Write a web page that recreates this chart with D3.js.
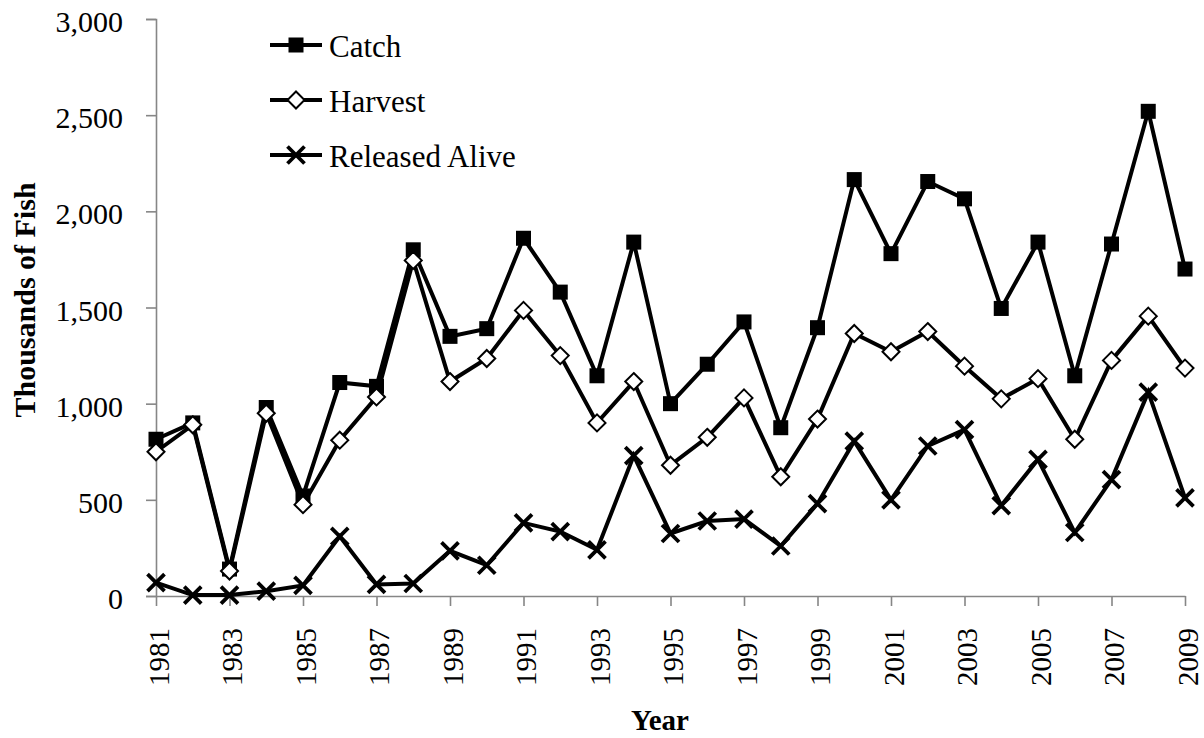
<!DOCTYPE html>
<html>
<head>
<meta charset="utf-8">
<script src="https://cdn.jsdelivr.net/npm/d3@7"></script>
<style>
  body { margin: 0; background: #fff; }
</style>
</head>
<body>
<script>
// data (thousands of fish)
const years = [1981, 1982, 1983, 1984, 1985, 1986, 1987, 1988, 1989, 1990,
               1991, 1992, 1993, 1994, 1995, 1996, 1997, 1998, 1999, 2000,
               2001, 2002, 2003, 2004, 2005, 2006, 2007, 2008, 2009];
const catchVals = [815, 900, 140, 980, 520, 1110, 1090, 1800, 1350, 1390,
                   1860, 1580, 1145, 1840, 1000, 1205, 1425, 875, 1395, 2165,
                   1780, 2155, 2065, 1495, 1840, 1145, 1830, 2520, 1700];
const harvestVals = [750, 890, 130, 950, 475, 810, 1035, 1745, 1115, 1235,
                     1485, 1250, 900, 1115, 680, 825, 1030, 620, 920, 1365,
                     1270, 1375, 1195, 1025, 1130, 815, 1225, 1455, 1185];
const releasedVals = [70, 5, 5, 25, 55, 310, 60, 65, 235, 160,
                      380, 335, 240, 730, 325, 390, 400, 260, 480, 805,
                      500, 780, 865, 470, 710, 330, 605, 1060, 510];
const yTicks = [0, 500, 1000, 1500, 2000, 2500, 3000];
const xTicks = [1981, 1983, 1985, 1987, 1989, 1991, 1993, 1995, 1997, 1999,
                2001, 2003, 2005, 2007, 2009];

const series = [
  {name: "Catch", values: catchVals, marker: "square"},
  {name: "Harvest", values: harvestVals, marker: "diamond"},
  {name: "Released Alive", values: releasedVals, marker: "cross"}
];

const W = 1204, H = 738;
const plot = {left: 156, right: 1185, top: 19, bottom: 596};
const axisGray = "#868686";
const serif = "'Liberation Serif'";

const svg = d3.select("body").append("svg")
  .attr("width", W)
  .attr("height", H)
  .attr("font-family", "Liberation Serif");

const x = d3.scaleLinear().domain([1981, 2009]).range([plot.left, plot.right]);
const y = d3.scaleLinear().domain([0, 3000]).range([plot.bottom, plot.top]);

// y axis
const yAxis = svg.append("g")
  .attr("transform", `translate(${plot.left},0)`)
  .call(d3.axisLeft(y).tickValues(yTicks).tickFormat(d3.format(","))
    .tickSizeInner(10).tickSizeOuter(10).tickPadding(23));
yAxis.attr("font-family", "Liberation Serif").attr("font-size", 30);
yAxis.selectAll("path, line").attr("stroke", axisGray).attr("stroke-width", 1.6);
yAxis.selectAll("text")
  .attr("font-family", "Liberation Serif")
  .style("font-family", serif)
  .style("font-size", "30px")
  .attr("fill", "#000")
  .attr("dy", "0.42em");

// x axis
const xAxis = svg.append("g")
  .attr("transform", `translate(0,${plot.bottom})`)
  .call(d3.axisBottom(x).tickValues(xTicks).tickFormat(d3.format("d"))
    .tickSizeInner(10).tickSizeOuter(0));
xAxis.attr("font-family", "Liberation Serif").attr("font-size", 29);
xAxis.selectAll("path, line").attr("stroke", axisGray).attr("stroke-width", 1.6);
xAxis.selectAll("text")
  .attr("font-family", "Liberation Serif")
  .style("font-family", serif)
  .style("font-size", "29px")
  .attr("fill", "#000")
  .attr("text-anchor", "end")
  .attr("transform", "rotate(-90)")
  .attr("x", -32)
  .attr("y", 0)
  .attr("dy", "0.42em");

// axis titles
svg.append("text")
  .attr("x", 660).attr("y", 730)
  .attr("text-anchor", "middle")
  .attr("font-family", "Liberation Serif")
  .style("font-family", serif)
  .style("font-size", "29px")
  .style("font-weight", "bold")
  .text("Year");

svg.append("text")
  .attr("transform", "translate(35,300) rotate(-90)")
  .attr("text-anchor", "middle")
  .attr("font-family", "Liberation Serif")
  .style("font-family", serif)
  .style("font-size", "30px")
  .style("font-weight", "bold")
  .text("Thousands of Fish");

// markers
function drawMarker(g, type) {
  if (type === "square") {
    g.append("rect").attr("x", -7.5).attr("y", -7.5).attr("width", 15).attr("height", 15)
      .attr("fill", "#000");
  } else if (type === "diamond") {
    g.append("path").attr("d", "M0,-8.5L8.5,0L0,8.5L-8.5,0Z")
      .attr("fill", "#fff").attr("stroke", "#000").attr("stroke-width", 2);
  } else {
    g.append("path").attr("d", "M-8.5,-8.5L8.5,8.5M-8.5,8.5L8.5,-8.5")
      .attr("fill", "none").attr("stroke", "#000").attr("stroke-width", 3.8);
  }
}

const line = d3.line()
  .x((d, i) => x(years[i]))
  .y(d => y(d));

series.forEach(s => {
  svg.append("path")
    .datum(s.values)
    .attr("d", line)
    .attr("fill", "none")
    .attr("stroke", "#000")
    .attr("stroke-width", 4)
    .attr("stroke-linejoin", "miter");

  svg.append("g").selectAll("g")
    .data(s.values)
    .join("g")
    .attr("transform", (d, i) => `translate(${x(years[i])},${y(d)})`)
    .each(function() { drawMarker(d3.select(this), s.marker); });
});

// legend
const legend = svg.append("g").attr("transform", "translate(270,45)");
const rows = legend.selectAll("g")
  .data(series)
  .join("g")
  .attr("transform", (d, i) => `translate(0,${i * 55})`);
rows.append("line")
  .attr("x1", 0).attr("x2", 52)
  .attr("stroke", "#000").attr("stroke-width", 4);
rows.each(function(d) {
  const g = d3.select(this).append("g").attr("transform", "translate(26,0)");
  drawMarker(g, d.marker);
});
rows.append("text")
  .attr("x", 59).attr("dy", "0.38em")
  .attr("font-family", "Liberation Serif")
  .style("font-family", serif)
  .style("font-size", "31px")
  .attr("fill", "#000")
  .text(d => d.name);
</script>
</body>
</html>
